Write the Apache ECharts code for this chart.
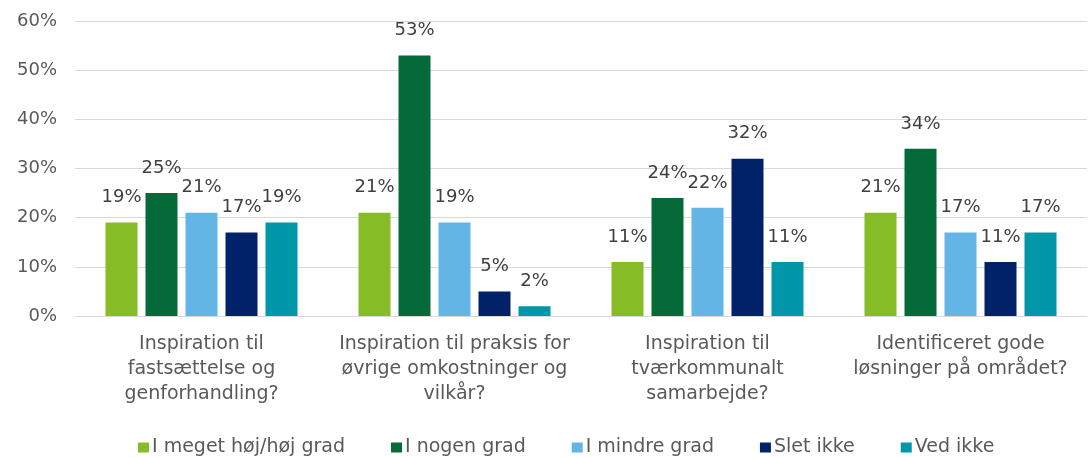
<!DOCTYPE html>
<html>
<head>
<meta charset="utf-8">
<script src="https://cdn.jsdelivr.net/npm/echarts@6/dist/echarts.min.js"></script>
<style>
  html, body { margin: 0; padding: 0; background: #fff; }
  #myChart { width: 1089px; height: 457px; }
</style>
</head>
<body>
<div id="myChart"></div>
<script>
// 数据
var categories = [
  'Inspiration til\nfastsættelse og\ngenforhandling?',
  'Inspiration til praksis for\nøvrige omkostninger og\nvilkår?',
  'Inspiration til\ntværkommunalt\nsamarbejde?',
  'Identificeret gode\nløsninger på området?'
];
var seriesNames = ['I meget høj/høj grad', 'I nogen grad', 'I mindre grad', 'Slet ikke', 'Ved ikke'];
var hoejGrad = [19, 21, 11, 21];
var nogenGrad = [25, 53, 24, 34];
var mindreGrad = [21, 19, 22, 17];
var sletIkke = [17, 5, 32, 11];
var vedIkke = [19, 2, 11, 17];
var colors = ['#86BC25', '#046A38', '#62B5E5', '#012169', '#0097A9'];

var font = '"DejaVu Sans"';
var values = [hoejGrad, nogenGrad, mindreGrad, sletIkke, vedIkke];

let myChart = echarts.init(document.getElementById('myChart'));
myChart.setOption({
  animation: false,
  color: colors,
  grid: {
    left: 75,
    right: 2,
    top: 21,
    bottom: 141
  },
  legend: {
    left: 133,
    top: 433,
    itemWidth: 11,
    itemHeight: 10,
    itemGap: 46,
    icon: 'rect',
    textStyle: { color: '#595959', fontFamily: font, fontSize: 19, padding: [0, 0, 0, -2] },
    data: seriesNames
  },
  xAxis: {
    type: 'category',
    data: categories,
    axisTick: { show: false },
    axisLine: { lineStyle: { color: '#d9d9d9', width: 1 } },
    axisLabel: {
      interval: 0,
      margin: 16,
      color: '#595959',
      fontFamily: font,
      fontSize: 19,
      lineHeight: 25
    }
  },
  yAxis: {
    type: 'value',
    min: 0,
    max: 60,
    interval: 10,
    axisLine: { show: false },
    axisTick: { show: false },
    splitLine: { lineStyle: { color: '#d9d9d9', width: 1 } },
    axisLabel: {
      formatter: '{value}%',
      margin: 18,
      color: '#595959',
      fontFamily: font,
      fontSize: 18
    }
  },
  series: seriesNames.map(function (name, i) {
    return {
      name: name,
      type: 'bar',
      barWidth: 32,
      barGap: '25%',
      data: values[i],
      label: {
        show: true,
        position: 'top',
        distance: 16,
        formatter: '{c}%',
        color: '#404040',
        fontFamily: font,
        fontSize: 18
      }
    };
  })
});
</script>
</body>
</html>
